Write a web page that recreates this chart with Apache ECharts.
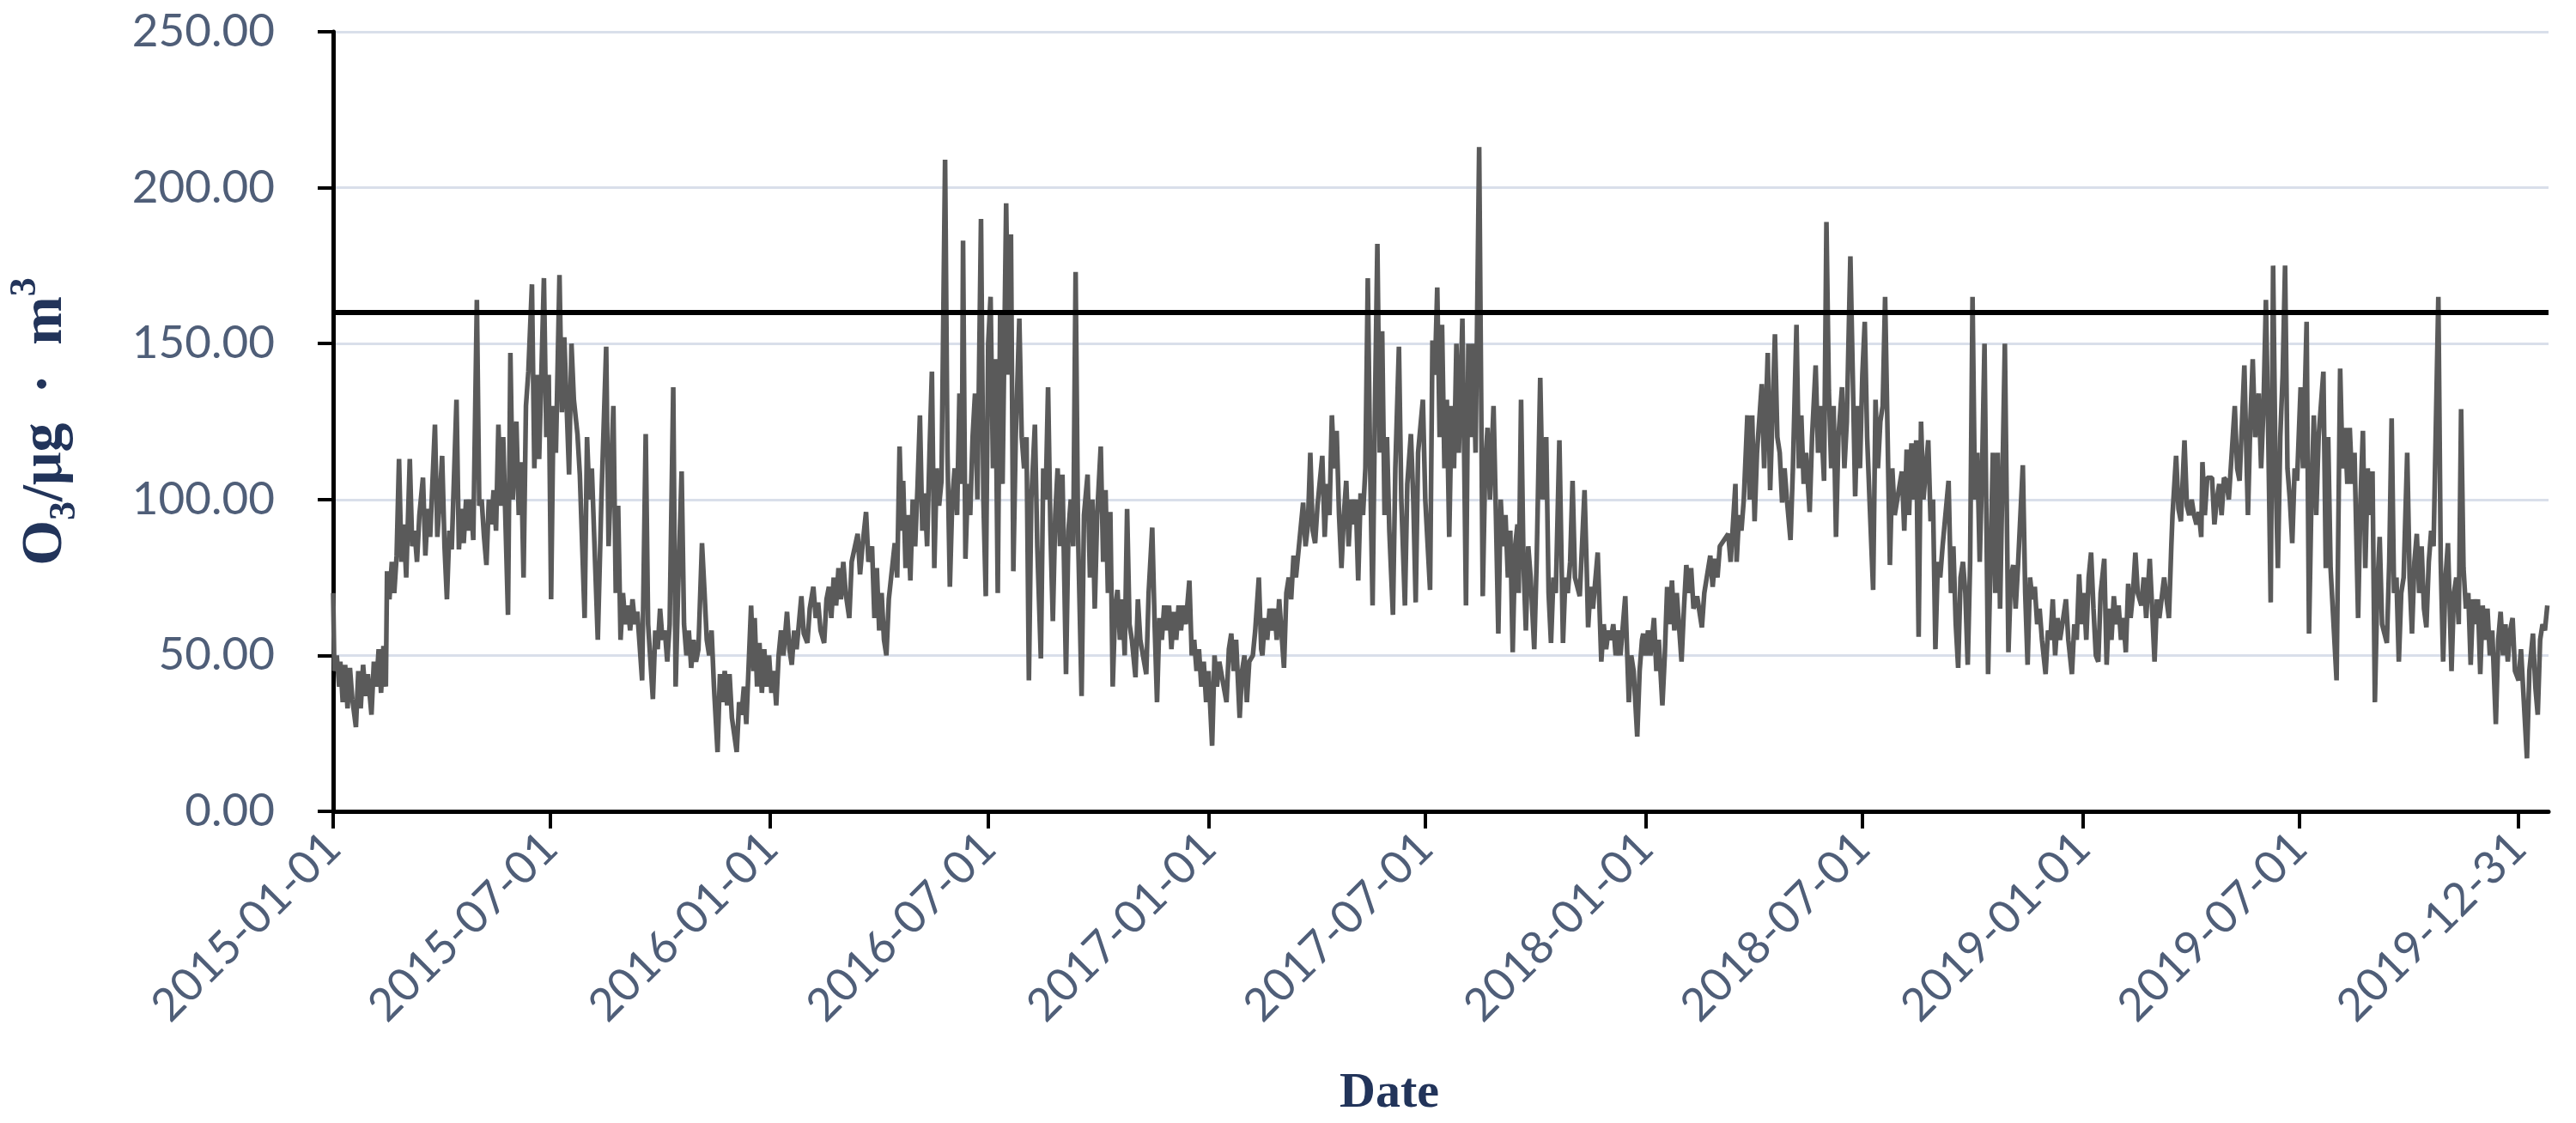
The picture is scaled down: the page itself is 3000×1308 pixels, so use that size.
<!DOCTYPE html>
<html>
<head>
<meta charset="utf-8">
<script src="https://cdn.jsdelivr.net/npm/echarts@6/dist/echarts.min.js"></script>
<style>
  html, body { margin: 0; padding: 0; background: #fff; }
  #chart { width: 3000px; height: 1308px; }
</style>
</head>
<body>
<div id="chart"></div>
<script>
// daily O3 readings, [day index from 2015-01-01, value]
var o3_2015 = [[0,70],[1,45],[3,50],[5,40],[6,48],[8,35],[10,47],[12,33],[14,46],[16,36],[19,27],[21,45],[23,33],[25,47],[27,37],[29,44],[32,31],[34,48],[36,40],[38,52],[40,38],[42,53],[44,40],[45,77],[47,68],[49,80],[51,70],[53,82],[55,113],[57,80],[59,92],[61,75],[64,113],[66,85],[68,90],[70,80],[72,95],[75,107],[77,82],[79,97],[81,88],[85,124],[87,88],[89,100],[91,114],[93,85],[95,68],[97,90],[99,84],[103,132],[105,84],[107,97],[109,86],[111,100],[113,90],[115,100],[117,87],[120,164],[122,98],[124,100],[126,88],[128,79],[130,100],[132,92],[134,103],[136,90],[138,124],[140,98],[142,120],[146,63],[148,147],[150,100],[153,125],[155,95],[157,112],[159,75],[161,130],[163,141],[166,169],[168,110],[170,140],[172,113],[176,171],[178,120],[180,140],[182,68],[184,130],[186,115],[189,172],[191,128],[193,152],[197,108],[199,150],[201,132],[204,121],[206,108],[210,62],[212,120],[214,100],[216,110],[221,55],[224,100],[228,149],[230,85],[234,130],[236,70],[238,98],[240,55],[242,70],[244,60],[246,66],[248,58],[250,68],[252,60],[254,64],[258,42],[261,121],[263,60],[267,36],[269,58],[271,52],[273,65],[275,55],[277,58],[279,48],[281,60],[284,136],[286,40],[288,70],[291,109],[293,60],[295,50],[297,58],[299,46],[301,55],[303,48],[305,52],[308,86],[310,71],[312,55],[314,50],[316,58],[318,40],[321,19],[323,44],[325,35],[327,45],[329,34],[331,44],[333,30],[337,19],[339,35],[341,31],[343,40],[345,28],[349,66],[351,45],[352,62],[354,40],[356,54],[358,38],[360,52],[362,40],[364,50]];

var o3_2016 = [[366,38],[368,45],[370,34],[372,50],[374,58],[376,50],[379,64],[381,52],[383,47],[385,58],[387,52],[391,69],[393,57],[396,54],[398,65],[401,72],[403,62],[405,67],[407,58],[410,54],[412,68],[414,72],[416,62],[418,75],[420,66],[422,78],[424,68],[426,80],[428,70],[431,62],[433,80],[438,89],[440,76],[442,85],[445,96],[447,80],[450,85],[452,62],[454,78],[456,58],[458,70],[460,55],[462,50],[464,68],[469,86],[471,75],[473,117],[475,90],[476,106],[478,78],[480,95],[482,74],[484,100],[486,85],[488,104],[490,127],[492,90],[494,102],[496,85],[498,115],[500,141],[502,78],[504,110],[506,98],[508,106],[511,209],[513,115],[515,72],[517,100],[519,110],[521,95],[523,134],[525,105],[526,183],[528,81],[530,105],[532,95],[534,120],[536,134],[538,100],[541,190],[543,100],[545,69],[547,150],[549,165],[551,110],[553,145],[555,70],[557,160],[559,105],[562,195],[564,140],[566,185],[568,77],[570,120],[573,158],[575,120],[577,110],[579,120],[581,42],[583,100],[586,124],[588,85],[591,49],[593,110],[595,100],[597,136],[599,90],[601,61],[603,95],[605,110],[607,85],[609,108],[612,44],[614,90],[616,100],[618,85],[620,173],[622,90],[625,37],[627,95],[630,108],[632,75],[634,100],[636,65],[638,95],[641,117],[643,80],[645,103],[647,70],[649,96],[651,40],[653,65],[655,71],[657,55],[659,68],[661,50],[663,97],[665,60],[667,55],[670,43],[672,68],[674,55],[679,44],[681,70],[684,91],[686,60],[688,35],[690,62],[692,55],[694,66],[696,58],[698,66],[700,52],[702,64],[704,55],[706,66],[708,58],[710,66],[712,60],[715,74],[717,50],[719,55],[721,45],[723,52],[725,40],[727,48],[729,35]];

var o3_2017 = [[731,45],[734,21],[736,50],[738,40],[740,48],[746,35],[748,52],[750,57],[752,45],[754,55],[757,30],[759,45],[761,50],[763,35],[765,48],[768,50],[770,58],[773,75],[775,52],[776,50],[778,62],[780,55],[782,65],[784,58],[786,65],[788,55],[790,68],[794,46],[796,70],[798,75],[800,68],[802,82],[804,75],[810,99],[812,85],[814,92],[816,115],[818,90],[820,86],[822,98],[826,114],[828,88],[830,105],[832,95],[834,127],[836,110],[838,122],[840,95],[842,78],[844,95],[846,106],[848,85],[850,100],[852,92],[854,100],[856,74],[858,102],[860,95],[862,110],[864,171],[866,110],[868,66],[870,130],[872,182],[874,115],[876,154],[878,95],[880,120],[882,90],[885,63],[887,110],[890,149],[892,100],[895,66],[897,105],[900,121],[902,100],[904,67],[906,115],[910,132],[912,100],[916,71],[918,151],[920,140],[922,168],[924,120],[926,156],[928,110],[930,132],[932,88],[934,130],[936,110],[938,150],[940,115],[943,158],[944,130],[946,66],[948,150],[950,120],[952,150],[954,115],[957,213],[960,69],[962,110],[964,123],[966,100],[969,130],[971,95],[973,57],[975,100],[977,85],[979,95],[981,75],[983,90],[985,51],[987,85],[989,92],[990,70],[992,132],[994,80],[996,58],[998,85],[1000,75],[1003,52],[1005,80],[1008,139],[1010,100],[1013,120],[1015,70],[1017,54],[1019,75],[1021,70],[1024,119],[1027,54],[1029,75],[1031,70],[1033,80],[1035,106],[1037,75],[1041,69],[1045,103],[1047,75],[1048,59],[1050,72],[1052,65],[1056,83],[1059,48],[1061,60],[1063,52],[1065,58],[1067,55],[1069,60],[1071,50],[1073,58],[1075,50],[1079,69],[1082,35],[1084,50],[1086,45],[1089,24],[1091,45],[1093,55]];

var o3_2018 = [[1094,57],[1096,50],[1098,58],[1100,50],[1103,62],[1105,45],[1107,55],[1110,34],[1112,50],[1114,72],[1116,60],[1118,74],[1120,58],[1122,70],[1126,48],[1128,65],[1130,79],[1132,70],[1134,78],[1136,65],[1139,69],[1143,59],[1145,70],[1150,82],[1152,72],[1154,81],[1156,75],[1158,85],[1165,89],[1167,80],[1171,105],[1172,80],[1174,95],[1176,90],[1178,100],[1181,127],[1183,100],[1185,127],[1187,93],[1189,115],[1193,137],[1195,110],[1198,147],[1200,103],[1204,153],[1206,120],[1208,115],[1210,99],[1212,110],[1214,100],[1217,87],[1219,110],[1222,156],[1224,110],[1226,127],[1228,105],[1230,115],[1233,96],[1235,120],[1238,143],[1240,115],[1242,130],[1245,106],[1247,189],[1249,135],[1251,110],[1253,130],[1255,88],[1257,120],[1260,136],[1262,110],[1264,125],[1267,178],[1271,101],[1273,130],[1275,110],[1277,140],[1279,157],[1281,120],[1283,100],[1286,71],[1288,132],[1290,110],[1292,125],[1294,130],[1296,165],[1300,79],[1302,110],[1304,95],[1310,109],[1312,90],[1314,116],[1316,95],[1318,118],[1320,100],[1322,119],[1324,56],[1326,125],[1328,100],[1332,119],[1334,93],[1336,100],[1338,52],[1340,80],[1342,75],[1344,85],[1349,106],[1351,70],[1353,85],[1355,60],[1357,46],[1359,75],[1361,80],[1363,70],[1365,47],[1367,80],[1369,165],[1371,100],[1373,115],[1375,80],[1377,110],[1379,150],[1382,44],[1384,80],[1386,115],[1388,70],[1390,115],[1392,65],[1396,150],[1399,51],[1401,75],[1403,79],[1405,65],[1407,79],[1411,111],[1413,70],[1415,47],[1417,75],[1419,68],[1421,72],[1423,60],[1425,65],[1427,55],[1430,44],[1432,58],[1434,55],[1436,68],[1438,50],[1440,62],[1442,55],[1444,60],[1447,68],[1449,55],[1452,44],[1454,60],[1456,55],[1458,76]];

var o3_2019 = [[1460,60],[1462,70],[1464,55],[1466,75],[1468,83],[1470,65],[1472,50],[1474,48],[1476,70],[1479,81],[1481,47],[1483,65],[1485,55],[1487,69],[1489,60],[1491,66],[1493,55],[1495,62],[1497,51],[1499,73],[1501,62],[1503,70],[1505,83],[1507,70],[1510,66],[1512,75],[1514,62],[1517,81],[1519,65],[1521,48],[1523,68],[1525,62],[1529,75],[1531,68],[1533,62],[1535,85],[1536,95],[1539,114],[1541,97],[1543,93],[1546,119],[1548,98],[1550,95],[1552,100],[1554,95],[1556,92],[1558,96],[1560,88],[1561,112],[1563,95],[1565,107],[1569,107],[1571,92],[1573,100],[1575,105],[1577,95],[1579,107],[1581,106],[1583,100],[1585,112],[1588,130],[1590,110],[1592,106],[1596,143],[1598,110],[1599,95],[1601,125],[1603,145],[1605,120],[1608,134],[1610,110],[1612,130],[1614,164],[1616,120],[1618,67],[1620,175],[1622,110],[1624,78],[1626,120],[1628,140],[1630,175],[1632,110],[1634,100],[1636,86],[1638,110],[1640,106],[1643,136],[1645,110],[1648,157],[1650,57],[1652,100],[1654,127],[1656,95],[1658,120],[1662,141],[1664,78],[1666,120],[1668,78],[1673,42],[1676,142],[1678,110],[1680,123],[1682,105],[1684,123],[1686,105],[1688,115],[1691,62],[1693,100],[1695,122],[1697,78],[1699,110],[1701,95],[1703,109],[1705,35],[1707,71],[1709,88],[1711,60],[1715,54],[1717,80],[1719,126],[1721,70],[1723,75],[1725,48],[1727,70],[1729,75],[1732,115],[1734,75],[1736,57],[1738,80],[1740,89],[1742,70],[1744,85],[1746,65],[1748,59],[1750,80],[1752,90],[1754,85],[1758,165],[1760,80],[1762,48],[1764,75],[1766,86],[1769,45],[1771,70],[1773,75],[1775,60],[1777,129],[1779,78],[1781,65],[1783,70],[1785,47],[1787,68],[1789,60],[1791,68],[1793,44],[1795,66],[1797,55],[1799,65],[1801,50],[1803,58],[1806,28],[1808,55],[1810,64],[1812,50],[1814,60],[1816,48],[1818,58],[1820,62],[1822,45],[1825,42],[1827,52],[1829,38],[1832,17],[1834,45],[1837,57],[1839,40],[1841,31],[1843,55],[1845,60],[1847,58],[1849,66]];

var tickDates = ['2015-01-01', '2015-07-01', '2016-01-01', '2016-07-01', '2017-01-01',
    '2017-07-01', '2018-01-01', '2018-07-01', '2019-01-01', '2019-07-01', '2019-12-31'];
var limitValue = 160;
var lastDay = 1850;

var DAY = 86400000;
var start = Date.UTC(2015, 0, 1);

// x is the day index from 2015-01-01
var seriesData = [].concat(o3_2015, o3_2016, o3_2017, o3_2018, o3_2019);

var tickDays = tickDates.map(function (d) {
    return Math.round((new Date(d + 'T00:00:00Z').getTime() - start) / DAY);
});

function fmtDay(v) {
    var d = new Date(start + v * DAY);
    var m = d.getUTCMonth() + 1, day = d.getUTCDate();
    return d.getUTCFullYear() + '-' + (m < 10 ? '0' + m : m) + '-' + (day < 10 ? '0' + day : day);
}

var labelColor = '#4f5e78';
var titleColor = '#22345a';

var myChart = echarts.init(document.getElementById('chart'));
var option = {
    backgroundColor: '#ffffff',
    animation: false,
    grid: { left: 374, right: 32, top: 37, bottom: 348 },
    xAxis: {
        type: 'value',
        min: 0,
        max: lastDay,
        name: 'Date',
        nameLocation: 'middle',
        nameGap: 300,
        nameTextStyle: {
            fontFamily: 'Liberation Serif', fontWeight: 'bold', fontSize: 58,
            color: titleColor, padding: [0, 120, 0, 0]
        },
        axisLine: { show: true, onZero: false, lineStyle: { color: '#000', width: 5 } },
        axisTick: { show: true, customValues: tickDays, length: 20, lineStyle: { color: '#000', width: 4 } },
        axisLabel: {
            customValues: tickDays,
            formatter: fmtDay,
            rotate: 45,
            margin: 34,
            fontFamily: 'Lato',
            fontSize: 53,
            color: labelColor
        },
        splitLine: { show: false }
    },
    yAxis: {
        type: 'value',
        min: 0,
        max: 250,
        interval: 50,
        name: '{b|O}{sub|3}{b|/μg  ·  m}{sup|3}',
        nameLocation: 'middle',
        nameRotate: 90,
        nameGap: 290,
        nameTextStyle: {
            rich: {
                b: { fontFamily: 'Liberation Serif', fontWeight: 'bold', fontSize: 68, color: titleColor, lineHeight: 90 },
                sub: { fontFamily: 'Liberation Serif', fontWeight: 'bold', fontSize: 44, color: titleColor, lineHeight: 90, verticalAlign: 'bottom' },
                sup: { fontFamily: 'Liberation Serif', fontWeight: 'bold', fontSize: 44, color: titleColor, lineHeight: 90, verticalAlign: 'top' }
            }
        },
        axisLine: { show: true, lineStyle: { color: '#000', width: 5 } },
        axisTick: { show: true, length: 18, lineStyle: { color: '#000', width: 4 } },
        axisLabel: {
            margin: 68,
            fontFamily: 'Lato',
            fontSize: 53,
            color: labelColor,
            formatter: function (v) { return v.toFixed(2); }
        },
        splitLine: { show: true, lineStyle: { color: '#d9dfea', width: 3 } }
    },
    series: [{
        name: 'O3',
        type: 'line',
        data: seriesData,
        showSymbol: false,
        symbol: 'none',
        lineStyle: { color: '#5a5a5a', width: 5.5 },
        z: 2,
        markLine: {
            silent: true,
            symbol: 'none',
            label: { show: false },
            lineStyle: { color: '#000', width: 6, type: 'solid' },
            data: [{ yAxis: limitValue }]
        }
    }]
};
myChart.setOption(option, true);
window.addEventListener('resize', function () {
    myChart.resize();
});
</script>
</body>
</html>
